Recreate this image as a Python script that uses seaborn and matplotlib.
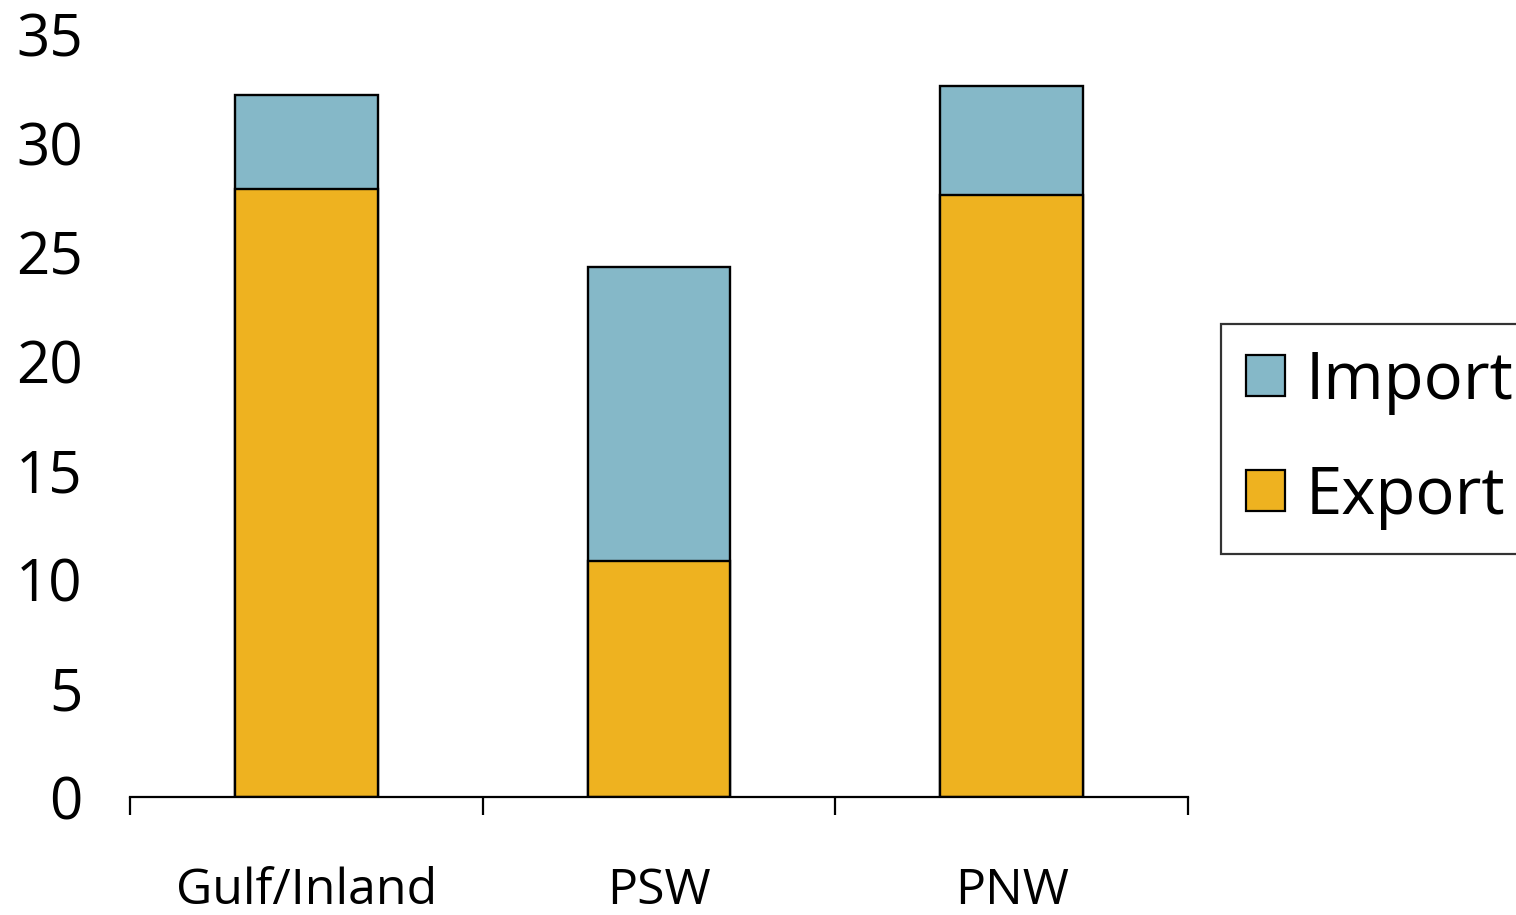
import matplotlib
matplotlib.use("Agg")
import matplotlib.pyplot as plt
import seaborn as sns
import pandas as pd
from matplotlib.patches import Patch

# values
regions = ["Gulf/Inland", "PSW", "PNW"]
export = [27.9, 10.8, 27.6]
imports = [4.3, 13.5, 5.0]

blue = "#85B8C8"
gold = "#EEB220"

sns.set_style("white")
plt.rcParams["font.family"] = ["Open Sans", "DejaVu Sans"]
plt.rcParams["text.color"] = "black"
plt.rcParams["xtick.color"] = "black"
plt.rcParams["ytick.color"] = "black"

df = pd.DataFrame({"region": regions, "Export": export, "Import": imports})
df["Total"] = df["Export"] + df["Import"]

fig = plt.figure(figsize=(15.16, 9.15), dpi=100)
ax = fig.add_axes([0.0858, 0.129, 0.6978, 0.834])

# total first, export drawn over it -> stacked look
sns.barplot(data=df, x="region", y="Total", color=blue, width=0.405,
            edgecolor="black", linewidth=1.7, saturation=1, ax=ax)
sns.barplot(data=df, x="region", y="Export", color=gold, width=0.405,
            edgecolor="black", linewidth=1.7, saturation=1, ax=ax)

ax.set_xlim(-0.5, 2.5)
ax.set_ylim(0, 35)
ax.set_yticks(range(0, 36, 5))
ax.set_xlabel("")
ax.set_ylabel("")

for s in ["top", "right", "left"]:
    ax.spines[s].set_visible(False)
ax.spines["bottom"].set_linewidth(1.6)
ax.spines["bottom"].set_color("black")

# labels at the centres, tick marks at the boundaries
ax.set_xticks(range(len(regions)))
ax.set_xticklabels(regions)
ax.set_xticks([-0.5, 0.5, 1.5, 2.5], minor=True)
ax.tick_params(axis="x", which="major", bottom=True, length=0, pad=50,
               labelsize=36)
ax.tick_params(axis="x", which="minor", bottom=True, length=13, width=1.6,
               direction="out", color="black")
ax.tick_params(axis="y", left=False, length=0, pad=34, labelsize=42)

handles = [Patch(facecolor=blue, edgecolor="black", linewidth=1.6, label="Import"),
           Patch(facecolor=gold, edgecolor="black", linewidth=1.6, label="Export")]
leg = fig.legend(handles=handles, loc="upper left",
                 bbox_to_anchor=(0.8054, 0.646), fontsize=47,
                 frameon=True, fancybox=False, edgecolor="black",
                 handlelength=0.6, handleheight=0.6, handletextpad=0.32,
                 borderpad=0.38, labelspacing=0.75, borderaxespad=0)
leg.get_frame().set_linewidth(1.6)

fig.savefig("out.png", dpi=100)
